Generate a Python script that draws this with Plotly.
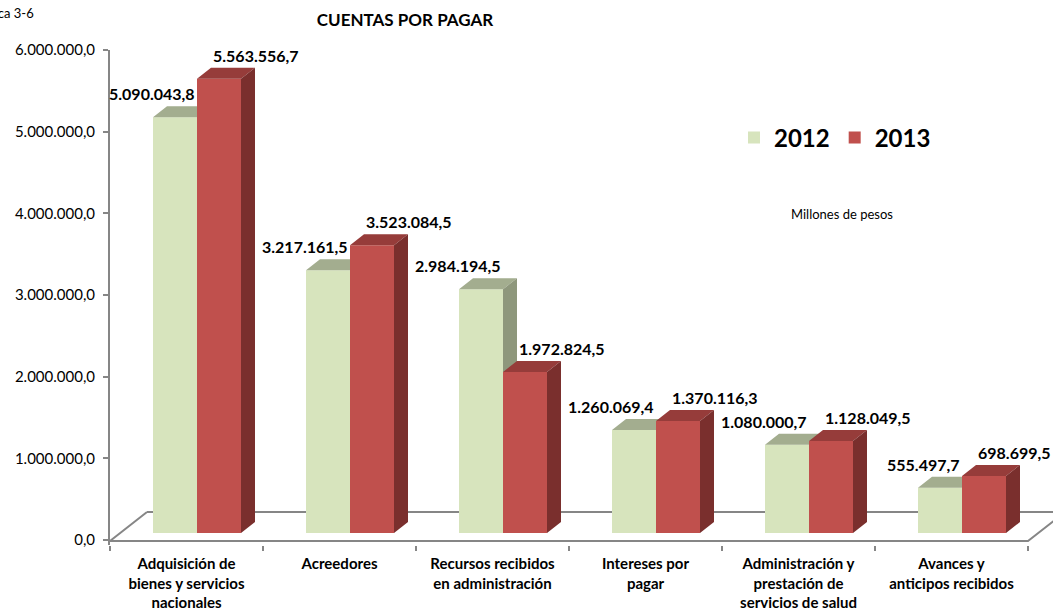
import plotly.graph_objects as go

categorias = [
    "Adquisición de<br>bienes y servicios<br>nacionales",
    "Acreedores",
    "Recursos recibidos<br>en administración",
    "Intereses por<br>pagar",
    "Administración y<br>prestación de<br>servicios de salud",
    "Avances y<br>anticipos recibidos",
]
valores_2012 = [5090043.8, 3217161.5, 2984194.5, 1260069.4, 1080000.7, 555497.7]
valores_2013 = [5563556.7, 3523084.5, 1972824.5, 1370116.3, 1128049.5, 698699.5]
y_ticks = [0, 1000000, 2000000, 3000000, 4000000, 5000000, 6000000]

# geometria del "3D" (en pixeles -> unidades de datos)
PX_CAT = 153.0             # pixeles por categoria
PPM = 490.0 / 6e6          # pixeles por unidad del eje y
W = 44 / PX_CAT            # ancho de cada barra
DX = 14 / PX_CAT           # profundidad horizontal
DY = 11 / PPM              # profundidad vertical
B0 = 7 / PPM               # base de la cara frontal
SHIFT = 10.5 / PX_CAT
FDX = 37 / PX_CAT          # profundidad del piso
Y_FRONT = -1 / PPM
Y_BACK = 28 / PPM
X_MAX = 943 / PX_CAT
Y_MIN = -5 / PPM

GRIS = "#868686"
FUENTE = "Lato"


def fmt(v):
    s = f"{v:,.1f}"
    return s.replace(",", "X").replace(".", ",").replace("X", ".")


def caras(centros, valores):
    tx, ty, sx, sy = [], [], [], []
    for c, v in zip(centros, valores):
        l, r, t = c - W / 2, c + W / 2, B0 + v
        tx += [l, r, r + DX, l + DX, l, None]
        ty += [t, t, t + DY, t + DY, t, None]
        sx += [r, r + DX, r + DX, r, r, None]
        sy += [B0, B0 + DY, t + DY, t, B0, None]
    return tx, ty, sx, sy


n = len(categorias)
centros_12 = [i + 0.5 + SHIFT - W / 2 for i in range(n)]
centros_13 = [i + 0.5 + SHIFT + W / 2 for i in range(n)]

fig = go.Figure()

# piso
fig.add_trace(go.Scatter(
    x=[FDX, 0, n, n + FDX, None, FDX, X_MAX + 1],
    y=[Y_BACK, Y_FRONT, Y_FRONT, Y_BACK, None, Y_BACK, Y_BACK],
    mode="lines", line=dict(color=GRIS, width=2),
    showlegend=False, hoverinfo="skip", xaxis="x", yaxis="y"))

series = [
    ("2012", valores_2012, centros_12, "#D7E4BD", "#A3AD8F", "#8E977C", "x2", "y2"),
    ("2013", valores_2013, centros_13, "#C0504D", "#963C3A", "#7A2F2D", "x3", "y3"),
]
for nombre, vals, centros, c_front, c_top, c_side, xa, ya in series:
    fig.add_trace(go.Bar(
        x=centros, y=vals, base=B0, width=W, name=nombre,
        marker=dict(color=c_front, line=dict(width=0)),
        xaxis=xa, yaxis=ya))
    tx, ty, sx, sy = caras(centros, vals)
    fig.add_trace(go.Scatter(x=tx, y=ty, fill="toself", fillcolor=c_top, mode="none",
                             showlegend=False, hoverinfo="skip", xaxis=xa, yaxis=ya))
    fig.add_trace(go.Scatter(x=sx, y=sy, fill="toself", fillcolor=c_side, mode="none",
                             showlegend=False, hoverinfo="skip", xaxis=xa, yaxis=ya))

etiqueta = dict(family=FUENTE, size=16, color="black", weight="bold")
annotations = []
for c, v in zip(centros_12, valores_2012):
    annotations.append(dict(x=c + W / 2, y=B0 + v + DY, xref="x", yref="y", text=fmt(v),
                            xanchor="right", yanchor="bottom", yshift=1, showarrow=False,
                            font=etiqueta))
for c, v in zip(centros_13, valores_2013):
    annotations.append(dict(x=c - W / 2 + DX, y=B0 + v + DY, xref="x", yref="y", text=fmt(v),
                            xanchor="left", yanchor="bottom", yshift=1, showarrow=False,
                            font=etiqueta))
annotations.append(dict(x=(842 - 110) / 943, y=(545 - 214) / 495, xref="paper", yref="paper",
                        text="Millones de pesos", showarrow=False,
                        xanchor="center", yanchor="middle",
                        font=dict(family=FUENTE, size=13, color="black")))
annotations.append(dict(x=(36 - 110) / 943, y=(545 - 13) / 495, xref="paper", yref="paper",
                        text="Gráfica 3-6", showarrow=False, xanchor="right", yanchor="middle",
                        font=dict(family=FUENTE, size=13, color="black")))

eje_oculto = dict(range=[0, X_MAX], visible=False, fixedrange=True)
eje_y_oculto = dict(range=[Y_MIN, 6e6], visible=False, fixedrange=True)

fig.update_layout(
    width=1053, height=612, autosize=False,
    paper_bgcolor="white", plot_bgcolor="white",
    margin=dict(l=110, r=0, t=50, b=67),
    separators=",.",
    barmode="overlay",
    title=dict(text="<b>CUENTAS POR PAGAR</b>", x=405 / 1053, xanchor="center",
               y=1 - 20 / 612, yanchor="middle", yref="container",
               font=dict(family=FUENTE, size=17, color="black")),
    xaxis=dict(range=[0, X_MAX], tickvals=[i + 0.5 for i in range(n)], ticktext=categorias,
               ticks="", showline=False, showgrid=False, zeroline=False, fixedrange=True,
               ticklabelstandoff=8,
               tickfont=dict(family=FUENTE, size=15, color="black", weight="bold"),
               minor=dict(tickmode="linear", tick0=0, dtick=1, ticks="outside", ticklen=5,
                          tickwidth=2, tickcolor=GRIS)),
    yaxis=dict(range=[Y_MIN, 6e6], tickvals=y_ticks, tickformat=",.1f",
               ticks="outside", ticklen=5, tickwidth=2, tickcolor=GRIS, ticklabelstandoff=5,
               showline=True, linecolor=GRIS, linewidth=2, showgrid=False, zeroline=False,
               fixedrange=True, tickfont=dict(family=FUENTE, size=15, color="black")),
    xaxis2=dict(eje_oculto, overlaying="x"),
    yaxis2=dict(eje_y_oculto, overlaying="y"),
    xaxis3=dict(eje_oculto, overlaying="x"),
    yaxis3=dict(eje_y_oculto, overlaying="y"),
    legend=dict(orientation="h", x=(734 - 110) / 943, y=(545 - 138) / 495,
                xanchor="left", yanchor="middle", bgcolor="rgba(0,0,0,0)",
                font=dict(family=FUENTE, size=24, color="black", weight="bold")),
    annotations=annotations,
)

fig.write_html("out.html", config={"displayModeBar": False},
               post_script="document.body.style.margin = '0px';")
